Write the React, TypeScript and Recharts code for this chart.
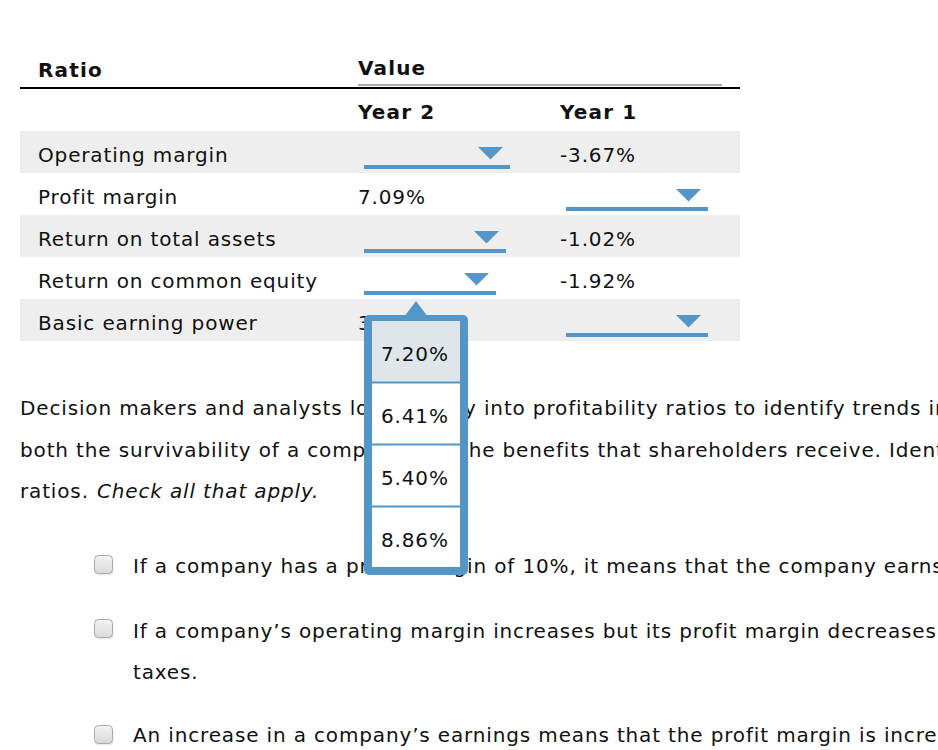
import React from 'react';
import { Surface, Layer, Text, Rectangle, Polygon } from 'recharts';

// ---------- data ----------
const ROW_LABELS = [
  'Operating margin',
  'Profit margin',
  'Return on total assets',
  'Return on common equity',
  'Basic earning power',
];
const YEAR2_VALUES: (string | null)[] = [null, '7.09%', null, null, '3.55%'];
const YEAR1_VALUES: (string | null)[] = ['-3.67%', null, '-1.02%', '-1.92%', null];
const DROPDOWN_OPTIONS = ['7.20%', '6.41%', '5.40%', '8.86%'];
const HEADERS = { ratio: 'Ratio', value: 'Value', year2: 'Year 2', year1: 'Year 1' };
const PARAGRAPH = [
  'Decision makers and analysts look closely into profitability ratios to identify trends in',
  'both the survivability of a company and the benefits that shareholders receive. Identify',
];
const PARAGRAPH_LAST = 'ratios.';
const PARAGRAPH_ITALIC = 'Check all that apply.';
const STATEMENTS = [
  ['If a company has a profit margin of 10%, it means that the company earns $0.10 for every dollar of sales.'],
  ['If a company\u2019s operating margin increases but its profit margin decreases, it could mean that the company is paying more in interest or', 'taxes.'],
  ['An increase in a company\u2019s earnings means that the profit margin is increasing.'],
];

// ---------- layout ----------
const W = 938;
const H = 750;
const FONT = '"DejaVu Sans", Verdana, sans-serif';
const FS = 20;
const BLUE = '#5596C8';
const ROW_TOP0 = 131;
const ROW_H = 42;
const COL_LABEL_X = 38;
const COL_Y2_X = 358;
const COL_Y1_X = 560;
const DD_Y2_X = 364;
const DD_Y1_X = 566;
const DD_WIDTHS = [146, 142, 142, 132, 142];

const Txt = (p: any) => (
  <Text
    fontFamily={FONT}
    fontSize={FS}
    fill="#111"
    textAnchor="start"
    verticalAnchor="end"
    letterSpacing={p.fontWeight === 'bold' ? 1.15 : 0.85}
    {...p}
  />
);

const Dropdown = ({ x, top, w }: { x: number; top: number; w: number }) => {
  const right = x + w;
  const aR = right - 7;
  const aL = aR - 25;
  return (
    <Layer>
      <Rectangle x={x} y={top + 34} width={w} height={4} fill={BLUE} />
      <Polygon
        points={[
          { x: aL, y: top + 16 },
          { x: aR, y: top + 16 },
          { x: (aL + aR) / 2, y: top + 28.5 },
        ]}
        fill={BLUE}
      />
    </Layer>
  );
};

const Checkbox = ({ y }: { y: number }) => (
  <Layer>
    <Rectangle x={94.5} y={y + 1.5} width={19} height={19} radius={4} fill="#000" fillOpacity={0.08} />
    <Rectangle x={94.5} y={y + 0.5} width={18} height={18} radius={4} fill="url(#cbGrad)" stroke="#a9a9a9" strokeWidth={1} />
  </Layer>
);

export default function App() {
  const rowTop = (i: number) => ROW_TOP0 + i * ROW_H;
  const popX = 364;
  const popY = 315;
  const popW = 104;
  const popH = 260;
  const optTop = 321;
  const optH = 62;
  const statementBaselines = [[573], [637.5, 678.5], [742]];
  const checkboxTops = [555, 619, 725];
  return (
    <div style={{ position: 'fixed', left: 0, top: 0, width: W, height: H, background: '#fff' }}>
      <Surface width={W} height={H}>
        <defs>
          <linearGradient id="cbGrad" x1="0" y1="0" x2="0" y2="1">
            <stop offset="0%" stopColor="#f4f4f4" />
            <stop offset="100%" stopColor="#d9d9d9" />
          </linearGradient>
        </defs>
        <Rectangle x={0} y={0} width={W} height={H} fill="#fff" />

        {/* header */}
        <Txt x={COL_LABEL_X} y={76.5} fontWeight="bold">{HEADERS.ratio}</Txt>
        <Txt x={COL_Y2_X} y={75} fontWeight="bold">{HEADERS.value}</Txt>
        <Rectangle x={358} y={84} width={364} height={2} fill="#aaaaaa" />
        <Rectangle x={20} y={87} width={720} height={2} fill="#000" />
        <Txt x={COL_Y2_X} y={119} fontWeight="bold">{HEADERS.year2}</Txt>
        <Txt x={COL_Y1_X} y={119} fontWeight="bold">{HEADERS.year1}</Txt>

        {/* rows */}
        {ROW_LABELS.map((label, i) => {
          const top = rowTop(i);
          const base = top + 30.5;
          return (
            <Layer key={label}>
              {i % 2 === 0 && <Rectangle x={20} y={top} width={720} height={ROW_H} fill="#eeeeee" />}
              <Txt x={COL_LABEL_X} y={base}>{label}</Txt>
              {YEAR2_VALUES[i] != null ? (
                <Txt x={COL_Y2_X} y={base}>{YEAR2_VALUES[i]}</Txt>
              ) : (
                <Dropdown x={DD_Y2_X} top={top} w={DD_WIDTHS[i]} />
              )}
              {YEAR1_VALUES[i] != null ? (
                <Txt x={COL_Y1_X} y={base}>{YEAR1_VALUES[i]}</Txt>
              ) : (
                <Dropdown x={DD_Y1_X} top={top} w={DD_WIDTHS[i]} />
              )}
            </Layer>
          );
        })}

        {/* paragraph */}
        <Txt x={20} y={415}>{PARAGRAPH[0]}</Txt>
        <Txt x={20} y={457}>{PARAGRAPH[1]}</Txt>
        <Txt x={20} y={498}>{PARAGRAPH_LAST}</Txt>
        <Txt x={97} y={498} fontStyle="italic">{PARAGRAPH_ITALIC}</Txt>

        {/* statements */}
        {STATEMENTS.map((lines, i) => (
          <Layer key={i}>
            <Checkbox y={checkboxTops[i]} />
            {lines.map((ln, j) => (
              <Txt key={j} x={133} y={statementBaselines[i][j]}>{ln}</Txt>
            ))}
          </Layer>
        ))}

        {/* open dropdown popup */}
        <Polygon
          points={[
            { x: 404, y: 317 },
            { x: 416, y: 301 },
            { x: 428, y: 317 },
          ]}
          fill={BLUE}
        />
        <Rectangle x={popX} y={popY} width={popW} height={popH} radius={5} fill={BLUE} />
        <Rectangle x={372} y={321} width={88} height={246} fill="#fff" />
        {DROPDOWN_OPTIONS.map((opt, k) => {
          const t = optTop + k * optH;
          return (
            <Layer key={opt}>
              {k === 0 && <Rectangle x={372} y={t} width={88} height={optH - 1} fill="#dfe6ea" />}
              {k > 0 && <Rectangle x={372} y={t - 1.5} width={88} height={2} fill={BLUE} />}
              <Txt x={381} y={t + 40}>{opt}</Txt>
            </Layer>
          );
        })}
      </Surface>
    </div>
  );
}
